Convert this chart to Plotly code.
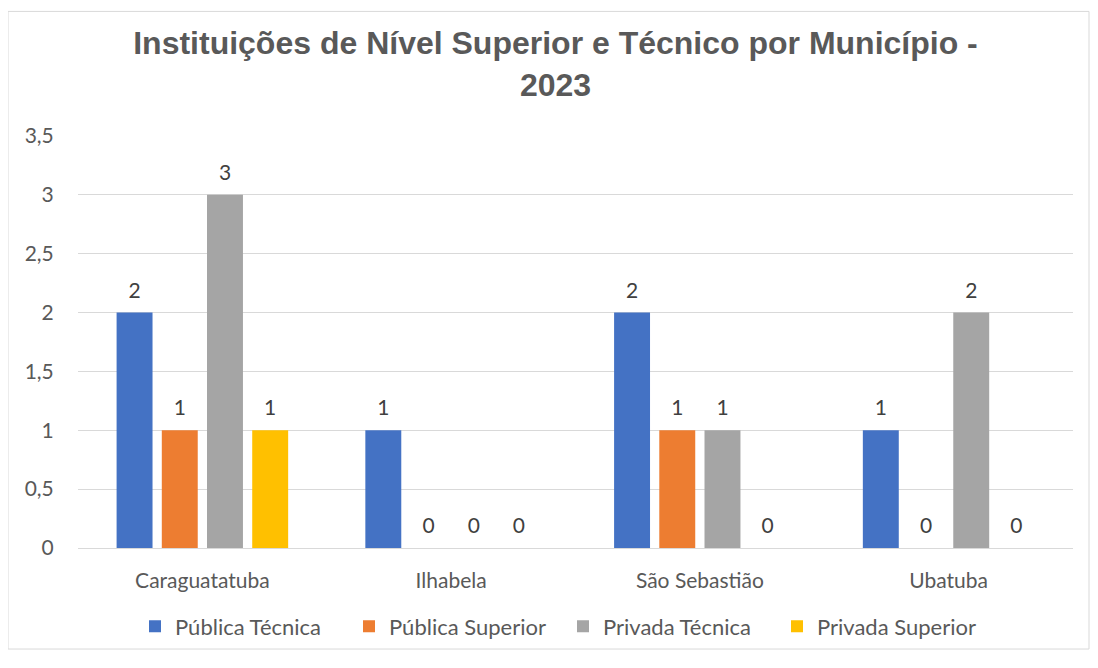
import plotly.graph_objects as go

categories = ["Caraguatatuba", "Ilhabela", "São Sebastião", "Ubatuba"]
series_names = ["Pública Técnica", "Pública Superior", "Privada Técnica", "Privada Superior"]
publica_tecnica = [2, 1, 2, 1]
publica_superior = [1, 0, 1, 0]
privada_tecnica = [3, 0, 1, 2]
privada_superior = [1, 0, 0, 0]
colors = ["#4472C4", "#ED7D31", "#A5A5A5", "#FFC000"]

W, H = 1082, 652          # page body has an 8px margin
L, R, T, B = 70, 1065, 128, 548
GAP = 0.273

LABEL_FONT = "Lato, Open Sans, sans-serif"

fig = go.Figure()
all_vals = [publica_tecnica, publica_superior, privada_tecnica, privada_superior]
for name, vals, col in zip(series_names, all_vals, colors):
    fig.add_trace(go.Bar(
        x=categories, y=vals, name=name, offsetgroup=name,
        marker=dict(color=col, line=dict(width=0)), hoverinfo="skip",
    ))
for name, vals in zip(series_names, all_vals):
    fig.add_trace(go.Scatter(
        x=categories, y=vals, mode="markers+text", offsetgroup=name,
        text=[str(v) for v in vals], textposition="top center",
        marker=dict(size=14, color="rgba(0,0,0,0)"),
        textfont=dict(family=LABEL_FONT, size=21, color="#404040"),
        showlegend=False, hoverinfo="skip", cliponaxis=False,
    ))

fig.update_layout(
    width=W, height=H,
    margin=dict(l=L, r=W - R, t=T, b=H - B),
    paper_bgcolor="white", plot_bgcolor="white",
    separators=", ",
    barmode="group", bargap=GAP, bargroupgap=0.205,
    scattermode="group", scattergap=GAP,
    title=dict(text="<b>Instituições de Nível Superior e Técnico por Município -<br>2023</b>",
               x=0.506, xanchor="center", y=1 - 46 / H, yanchor="top",
               font=dict(family="Liberation Sans, Arial, sans-serif", size=32, color="#595959")),
    font=dict(family=LABEL_FONT, size=21, color="#595959"),
    showlegend=True,
    legend=dict(orientation="h", x=(127 - L) / (R - L), xanchor="left",
                y=-(628 - B) / (B - T), yanchor="middle", bgcolor="rgba(0,0,0,0)",
                font=dict(size=22, color="#595959"), traceorder="normal",
                itemwidth=30, entrywidth=169, entrywidthmode="pixels"),
    xaxis=dict(showgrid=False, showline=True, linecolor="#D9D9D9", linewidth=1,
               ticks="outside", ticklen=14, tickcolor="rgba(0,0,0,0)",
               tickfont=dict(size=21, color="#595959")),
    yaxis=dict(range=[0, 3.5], dtick=0.5, showgrid=True, gridcolor="#D9D9D9", gridwidth=1,
               zeroline=False, showline=False, ticks="outside", ticklen=19,
               tickcolor="rgba(0,0,0,0)", tickfont=dict(size=21, color="#595959")),
    shapes=[dict(type="rect", xref="paper", yref="paper",
                 x0=-L / (R - L), x1=(W - L - 1) / (R - L),
                 y0=-(H - B - 1) / (B - T), y1=(B - 1) / (B - T),
                 line=dict(color="#D9D9D9", width=1), fillcolor="rgba(0,0,0,0)", layer="below")],
)

fig.write_html("out.html")
